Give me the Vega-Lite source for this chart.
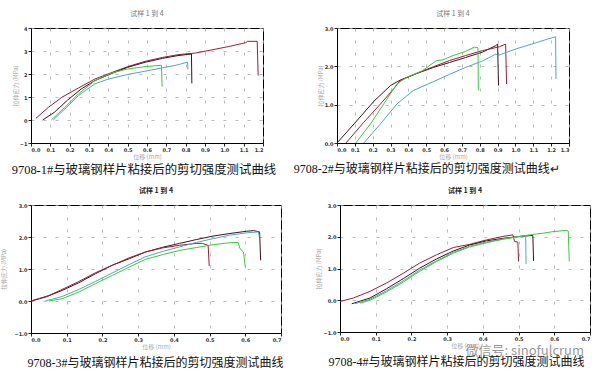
{
  "$schema": "https://vega.github.io/schema/vega-lite/v6.json",
  "background": "white",
  "padding": {"left": 0, "top": 9, "right": 2, "bottom": 0},
  "spacing": 10,
  "config": {
    "view": {"stroke": "black", "strokeWidth": 1},
    "font": "DejaVu Sans",
    "title": {"fontSize": 7, "fontWeight": "normal", "color": "#777", "font": "Noto Sans CJK SC", "offset": 9},
    "axis": {
      "domainColor": "black", "tickColor": "#222", "tickSize": 3,
      "labelFontSize": 5, "labelFontWeight": "bold", "labelColor": "#333", "labelPadding": 1,
      "titleFontSize": 6, "titleFontWeight": "normal", "titleColor": "#aaa", "titleFont": "Noto Sans CJK SC",
      "grid": true, "gridColor": "#aaa", "gridDash": [3, 9], "gridWidth": 0.8
    },
    "axisX": {"titlePadding": 1},
    "axisY": {"titlePadding": 1},
    "line": {"strokeWidth": 1}
  },
  "datasets": {
    "p1": [
      {"s":"red","x":0.025,"y":0.07},{"s":"red","x":0.09,"y":0.55},{"s":"red","x":0.16,"y":0.99},{"s":"red","x":0.245,"y":1.39},{"s":"red","x":0.33,"y":1.78},{"s":"red","x":0.42,"y":2.07},{"s":"red","x":0.5,"y":2.32},{"s":"red","x":0.59,"y":2.55},{"s":"red","x":0.68,"y":2.72},{"s":"red","x":0.76,"y":2.84},{"s":"red","x":0.85,"y":2.91},{"s":"red","x":0.93,"y":3.04},{"s":"red","x":1.02,"y":3.19},{"s":"red","x":1.11,"y":3.36},{"s":"red","x":1.12,"y":3.42},{"s":"red","x":1.17,"y":3.42},{"s":"red","x":1.175,"y":1.93},
      {"s":"dark","x":0.06,"y":0.0},{"s":"dark","x":0.12,"y":0.33},{"s":"dark","x":0.19,"y":0.87},{"s":"dark","x":0.26,"y":1.35},{"s":"dark","x":0.33,"y":1.71},{"s":"dark","x":0.42,"y":2.03},{"s":"dark","x":0.5,"y":2.29},{"s":"dark","x":0.59,"y":2.51},{"s":"dark","x":0.68,"y":2.68},{"s":"dark","x":0.76,"y":2.8},{"s":"dark","x":0.83,"y":2.87},{"s":"dark","x":0.832,"y":1.59},
      {"s":"teal","x":0.115,"y":0.0},{"s":"teal","x":0.175,"y":0.48},{"s":"teal","x":0.245,"y":1.06},{"s":"teal","x":0.33,"y":1.57},{"s":"teal","x":0.4,"y":1.78},{"s":"teal","x":0.5,"y":1.98},{"s":"teal","x":0.59,"y":2.12},{"s":"teal","x":0.68,"y":2.27},{"s":"teal","x":0.76,"y":2.4},{"s":"teal","x":0.81,"y":2.52},{"s":"teal","x":0.812,"y":2.2},
      {"s":"green","x":0.105,"y":0.0},{"s":"green","x":0.175,"y":0.55},{"s":"green","x":0.245,"y":1.13},{"s":"green","x":0.33,"y":1.71},{"s":"green","x":0.42,"y":2.05},{"s":"green","x":0.5,"y":2.22},{"s":"green","x":0.59,"y":2.32},{"s":"green","x":0.675,"y":2.38},{"s":"green","x":0.678,"y":1.45}
    ],
    "p2": [
      {"s":"dark","x":0.0,"y":0.0},{"s":"dark","x":0.096,"y":0.5},{"s":"dark","x":0.207,"y":1.09},{"s":"dark","x":0.3,"y":1.5},{"s":"dark","x":0.354,"y":1.64},{"s":"dark","x":0.45,"y":1.82},{"s":"dark","x":0.54,"y":1.97},{"s":"dark","x":0.63,"y":2.1},{"s":"dark","x":0.72,"y":2.23},{"s":"dark","x":0.815,"y":2.37},{"s":"dark","x":0.89,"y":2.54},{"s":"dark","x":0.9,"y":2.58},{"s":"dark","x":0.905,"y":1.5},
      {"s":"red","x":0.05,"y":0.0},{"s":"red","x":0.15,"y":0.54},{"s":"red","x":0.244,"y":1.02},{"s":"red","x":0.317,"y":1.41},{"s":"red","x":0.354,"y":1.63},{"s":"red","x":0.45,"y":1.82},{"s":"red","x":0.54,"y":1.99},{"s":"red","x":0.63,"y":2.15},{"s":"red","x":0.72,"y":2.28},{"s":"red","x":0.815,"y":2.41},{"s":"red","x":0.91,"y":2.51},{"s":"red","x":0.945,"y":2.58},{"s":"red","x":0.95,"y":1.54},
      {"s":"green","x":0.105,"y":0.0},{"s":"green","x":0.188,"y":0.5},{"s":"green","x":0.262,"y":1.02},{"s":"green","x":0.336,"y":1.54},{"s":"green","x":0.39,"y":1.71},{"s":"green","x":0.48,"y":1.89},{"s":"green","x":0.557,"y":2.15},{"s":"green","x":0.594,"y":2.17},{"s":"green","x":0.65,"y":2.28},{"s":"green","x":0.72,"y":2.39},{"s":"green","x":0.77,"y":2.5},{"s":"green","x":0.79,"y":2.48},{"s":"green","x":0.792,"y":1.37},
      {"s":"teal","x":0.15,"y":0.0},{"s":"teal","x":0.244,"y":0.5},{"s":"teal","x":0.336,"y":1.02},{"s":"teal","x":0.428,"y":1.37},{"s":"teal","x":0.54,"y":1.6},{"s":"teal","x":0.63,"y":1.79},{"s":"teal","x":0.72,"y":1.97},{"s":"teal","x":0.815,"y":2.14},{"s":"teal","x":0.89,"y":2.32},{"s":"teal","x":0.9,"y":2.28},{"s":"teal","x":1.0,"y":2.45},{"s":"teal","x":1.09,"y":2.58},{"s":"teal","x":1.18,"y":2.71},{"s":"teal","x":1.225,"y":2.77},{"s":"teal","x":1.227,"y":1.67}
    ],
    "p3": [
      {"s":"dark","x":0.0,"y":0.0},{"s":"dark","x":0.04,"y":0.12},{"s":"dark","x":0.087,"y":0.33},{"s":"dark","x":0.134,"y":0.57},{"s":"dark","x":0.18,"y":0.85},{"s":"dark","x":0.228,"y":1.12},{"s":"dark","x":0.275,"y":1.32},{"s":"dark","x":0.32,"y":1.53},{"s":"dark","x":0.369,"y":1.68},{"s":"dark","x":0.416,"y":1.8},{"s":"dark","x":0.463,"y":1.92},{"s":"dark","x":0.51,"y":2.03},{"s":"dark","x":0.557,"y":2.11},{"s":"dark","x":0.604,"y":2.18},{"s":"dark","x":0.623,"y":2.2},{"s":"dark","x":0.64,"y":2.16},{"s":"dark","x":0.643,"y":1.27},
      {"s":"red","x":0.0,"y":0.0},{"s":"red","x":0.05,"y":0.17},{"s":"red","x":0.087,"y":0.36},{"s":"red","x":0.134,"y":0.61},{"s":"red","x":0.18,"y":0.88},{"s":"red","x":0.228,"y":1.12},{"s":"red","x":0.275,"y":1.35},{"s":"red","x":0.32,"y":1.53},{"s":"red","x":0.369,"y":1.66},{"s":"red","x":0.416,"y":1.74},{"s":"red","x":0.463,"y":1.8},{"s":"red","x":0.48,"y":1.8},{"s":"red","x":0.496,"y":1.74},{"s":"red","x":0.499,"y":1.09},
      {"s":"teal","x":0.04,"y":0.0},{"s":"teal","x":0.087,"y":0.14},{"s":"teal","x":0.134,"y":0.36},{"s":"teal","x":0.18,"y":0.61},{"s":"teal","x":0.228,"y":0.88},{"s":"teal","x":0.275,"y":1.14},{"s":"teal","x":0.32,"y":1.38},{"s":"teal","x":0.369,"y":1.55},{"s":"teal","x":0.416,"y":1.69},{"s":"teal","x":0.463,"y":1.83},{"s":"teal","x":0.51,"y":1.95},{"s":"teal","x":0.557,"y":2.06},{"s":"teal","x":0.604,"y":2.13},{"s":"teal","x":0.637,"y":2.16},{"s":"teal","x":0.639,"y":2.02},
      {"s":"green","x":0.05,"y":0.0},{"s":"green","x":0.087,"y":0.07},{"s":"green","x":0.134,"y":0.28},{"s":"green","x":0.18,"y":0.54},{"s":"green","x":0.228,"y":0.8},{"s":"green","x":0.275,"y":1.06},{"s":"green","x":0.32,"y":1.3},{"s":"green","x":0.369,"y":1.45},{"s":"green","x":0.416,"y":1.58},{"s":"green","x":0.463,"y":1.67},{"s":"green","x":0.51,"y":1.76},{"s":"green","x":0.557,"y":1.82},{"s":"green","x":0.58,"y":1.83},{"s":"green","x":0.585,"y":1.64},{"s":"green","x":0.595,"y":1.53},{"s":"green","x":0.6,"y":1.06}
    ],
    "p4": [
      {"s":"red","x":0.0,"y":-0.04},{"s":"red","x":0.037,"y":0.07},{"s":"red","x":0.084,"y":0.28},{"s":"red","x":0.13,"y":0.54},{"s":"red","x":0.177,"y":0.85},{"s":"red","x":0.223,"y":1.17},{"s":"red","x":0.27,"y":1.43},{"s":"red","x":0.317,"y":1.66},{"s":"red","x":0.363,"y":1.76},{"s":"red","x":0.41,"y":1.9},{"s":"red","x":0.456,"y":2.01},{"s":"red","x":0.484,"y":2.06},{"s":"red","x":0.489,"y":1.85},{"s":"red","x":0.498,"y":1.83},{"s":"red","x":0.5,"y":1.22},
      {"s":"dark","x":0.033,"y":-0.11},{"s":"dark","x":0.084,"y":0.07},{"s":"dark","x":0.13,"y":0.36},{"s":"dark","x":0.177,"y":0.68},{"s":"dark","x":0.223,"y":1.01},{"s":"dark","x":0.27,"y":1.3},{"s":"dark","x":0.317,"y":1.55},{"s":"dark","x":0.363,"y":1.74},{"s":"dark","x":0.41,"y":1.87},{"s":"dark","x":0.456,"y":1.95},{"s":"dark","x":0.503,"y":2.01},{"s":"dark","x":0.54,"y":2.04},{"s":"dark","x":0.542,"y":1.24},
      {"s":"teal","x":0.042,"y":-0.11},{"s":"teal","x":0.084,"y":0.03},{"s":"teal","x":0.13,"y":0.3},{"s":"teal","x":0.177,"y":0.61},{"s":"teal","x":0.223,"y":0.95},{"s":"teal","x":0.27,"y":1.24},{"s":"teal","x":0.317,"y":1.51},{"s":"teal","x":0.363,"y":1.7},{"s":"teal","x":0.41,"y":1.83},{"s":"teal","x":0.456,"y":1.93},{"s":"teal","x":0.503,"y":2.01},{"s":"teal","x":0.52,"y":2.03},{"s":"teal","x":0.521,"y":1.14},
      {"s":"green","x":0.056,"y":-0.09},{"s":"green","x":0.084,"y":0.0},{"s":"green","x":0.13,"y":0.26},{"s":"green","x":0.177,"y":0.57},{"s":"green","x":0.223,"y":0.91},{"s":"green","x":0.27,"y":1.22},{"s":"green","x":0.317,"y":1.48},{"s":"green","x":0.363,"y":1.68},{"s":"green","x":0.41,"y":1.81},{"s":"green","x":0.456,"y":1.92},{"s":"green","x":0.503,"y":2.01},{"s":"green","x":0.55,"y":2.09},{"s":"green","x":0.568,"y":2.11},{"s":"green","x":0.596,"y":2.16},{"s":"green","x":0.633,"y":2.2},{"s":"green","x":0.639,"y":2.18},{"s":"green","x":0.642,"y":1.22}
    ]
  },
  "vconcat": [
    {
      "spacing": 16,
      "hconcat": [
        {
          "title": {"text": "9708-1#与玻璃钢样片粘接后的剪切强度测试曲线", "orient": "bottom", "anchor": "start", "fontSize": 12.4, "color": "#111", "font": "Liberation Serif, Noto Sans CJK SC", "offset": 4},
          "vconcat": [
            {
              "width": 232, "height": 115,
              "title": {"text": "试样 1 到 4"},
              "data": {"name": "p1"},
              "mark": {"type": "line"},
              "encoding": {
                "x": {"field": "x", "type": "quantitative", "scale": {"domain": [0, 1.2], "nice": false}, "axis": {"title": "位移 (mm)", "values": [0,0.1,0.2,0.3,0.4,0.5,0.6,0.7,0.8,0.9,1.0,1.1,1.2], "format": ".1f"}},
                "y": {"field": "y", "type": "quantitative", "scale": {"domain": [-1, 4], "nice": false}, "axis": {"title": "拉伸应力 (MPa)", "values": [-1,0,1,2,3,4], "format": "d"}},
                "color": {"field": "s", "type": "nominal", "scale": {"domain": ["red","dark","green","teal"], "range": ["#a01c34","#3a1418","#3cc83c","#4ea8b8"]}, "legend": null},
                "order": {"value": null}
              }
            }
          ]
        },
        {
          "title": {"text": "9708-2#与玻璃钢样片粘接后的剪切强度测试曲线↵", "orient": "bottom", "anchor": "start", "dx": -23, "fontSize": 12, "color": "#111", "font": "Liberation Serif, Noto Sans CJK SC", "offset": 4},
          "vconcat": [
            {
              "width": 232, "height": 115,
              "title": {"text": "试样 1 到 4"},
              "data": {"name": "p2"},
              "mark": {"type": "line"},
              "encoding": {
                "x": {"field": "x", "type": "quantitative", "scale": {"domain": [0, 1.3], "nice": false}, "axis": {"title": "位移 (mm)", "values": [0,0.1,0.2,0.3,0.4,0.5,0.6,0.7,0.8,0.9,1.0,1.1,1.2,1.3], "format": ".1f"}},
                "y": {"field": "y", "type": "quantitative", "scale": {"domain": [0, 3], "nice": false}, "axis": {"title": "拉伸应力 (MPa)", "values": [0,1,2,3], "format": ".1f"}},
                "color": {"field": "s", "type": "nominal", "scale": {"domain": ["red","dark","green","teal"], "range": ["#a01c34","#3a1418","#3cc83c","#4ea8b8"]}, "legend": null},
                "order": {"value": null}
              }
            }
          ]
        }
      ]
    },
    {
      "spacing": 31,
      "hconcat": [
        {
          "title": {"text": "9708-3#与玻璃钢样片粘接后的剪切强度测试曲线", "orient": "bottom", "anchor": "start", "dx": 27, "fontSize": 12, "color": "#111", "font": "Liberation Serif, Noto Sans CJK SC", "offset": 8},
          "vconcat": [
            {
              "width": 250, "height": 128,
              "title": {"text": "试样 1 到 4", "color": "#222", "fontWeight": "bold"},
              "data": {"name": "p3"},
              "mark": {"type": "line"},
              "encoding": {
                "x": {"field": "x", "type": "quantitative", "scale": {"domain": [0, 0.7], "nice": false}, "axis": {"title": "位移 (mm)", "values": [0,0.1,0.2,0.3,0.4,0.5,0.6,0.7], "format": ".1f"}},
                "y": {"field": "y", "type": "quantitative", "scale": {"domain": [-1, 3], "nice": false}, "axis": {"title": "拉伸应力 (MPa)", "titlePadding": 7, "values": [-1,0,1,2,3], "format": ".1f"}},
                "color": {"field": "s", "type": "nominal", "scale": {"domain": ["red","dark","green","teal"], "range": ["#a01c34","#3a1418","#3cc83c","#4ea8b8"]}, "legend": null},
                "order": {"value": null}
              }
            }
          ]
        },
        {
          "title": {"text": "9708-4#与玻璃钢样片粘接后的剪切强度测试曲线", "orient": "bottom", "anchor": "start", "dx": 13, "fontSize": 12, "color": "#111", "font": "Liberation Serif, Noto Sans CJK SC", "offset": -1},
          "vconcat": [
            {
              "title": {"text": "微信号: sinofulcrum", "orient": "bottom", "anchor": "end", "dx": -7, "fontSize": 13, "color": "#999", "font": "Noto Sans CJK SC", "offset": -4},
              "vconcat": [
                {
                  "width": 250, "height": 127,
                  "title": {"text": "试样 1 到 4", "color": "#222", "fontWeight": "bold"},
                  "data": {"name": "p4"},
                  "mark": {"type": "line"},
                  "encoding": {
                    "x": {"field": "x", "type": "quantitative", "scale": {"domain": [0, 0.7], "nice": false}, "axis": {"title": "位移 (mm)", "values": [0,0.1,0.2,0.3,0.4,0.5,0.6,0.7], "format": ".1f"}},
                    "y": {"field": "y", "type": "quantitative", "scale": {"domain": [-1, 3], "nice": false}, "axis": {"title": "拉伸应力 (MPa)", "values": [-1,0,1,2,3], "format": ".1f"}},
                    "color": {"field": "s", "type": "nominal", "scale": {"domain": ["red","dark","green","teal"], "range": ["#a01c34","#3a1418","#3cc83c","#4ea8b8"]}, "legend": null},
                    "order": {"value": null}
                  }
                }
              ]
            }
          ]
        }
      ]
    }
  ]
}
